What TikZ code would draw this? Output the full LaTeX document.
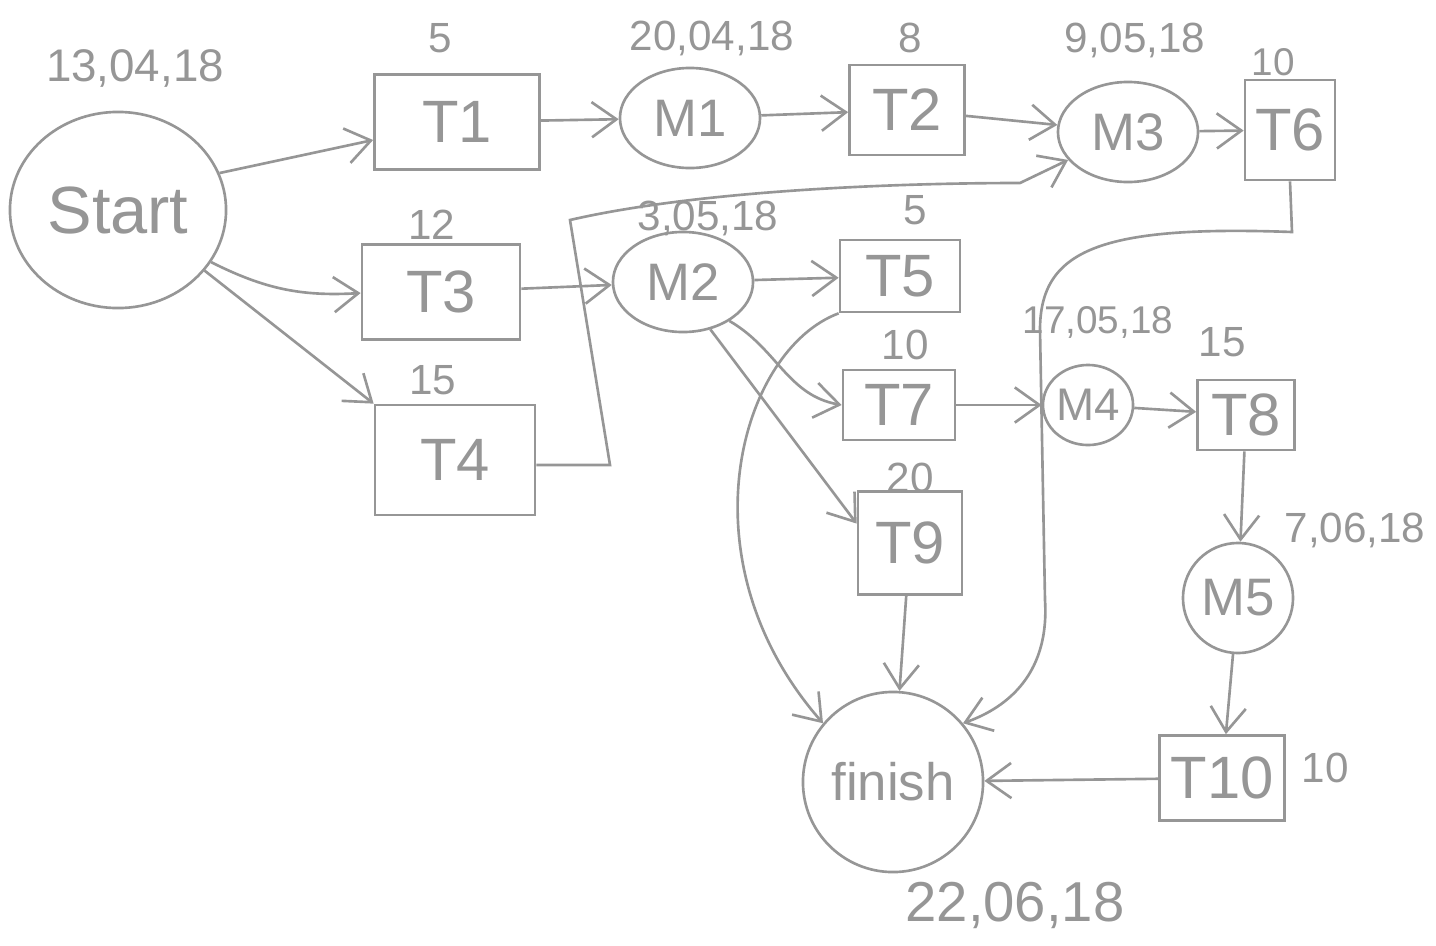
\documentclass[tikz,border=0pt]{standalone}
\usepackage{fontspec}
\setmainfont{Liberation Sans}
\usetikzlibrary{shapes.geometric,arrows.meta}
\definecolor{pencil}{RGB}{150,150,150}
\begin{document}
\begin{tikzpicture}[x=0.01cm,y=-0.01cm,
  box/.style={draw=pencil, line width=0.75pt, rectangle, inner sep=0pt, text=pencil, font=\fontsize{17}{19}\selectfont},
  oval/.style={draw=pencil, line width=0.75pt, ellipse, inner sep=0pt, text=pencil, font=\fontsize{15}{17}\selectfont},
  lbl/.style={text=pencil, inner sep=0pt, font=\fontsize{12}{14}\selectfont},
  link/.style={draw=pencil, line width=0.75pt, -{Straight Barb[length=7pt,width=10pt]}}]
\useasboundingbox (0,0) rectangle (1436,945);
% nodes
\node[oval, minimum width=2.16cm, minimum height=1.96cm, font=\fontsize{19}{21}\selectfont] (start) at (118,210) {Start};
\node[box, minimum width=1.65cm, minimum height=0.95cm] (T1) at (457,122) {T1};
\node[oval, minimum width=1.4cm, minimum height=1.0cm] (M1) at (690,118) {M1};
\node[box, minimum width=1.15cm, minimum height=0.9cm] (T2) at (907,110) {T2};
\node[oval, minimum width=1.4cm, minimum height=1.0cm] (M3) at (1128,132) {M3};
\node[box, minimum width=0.9cm, minimum height=1.0cm] (T6) at (1290,130) {T6};
\node[box, minimum width=1.58cm, minimum height=0.95cm] (T3) at (441,292) {T3};
\node[oval, minimum width=1.4cm, minimum height=1.0cm] (M2) at (683,282) {M2};
\node[box, minimum width=1.2cm, minimum height=0.72cm] (T5) at (900,276) {T5};
\node[box, minimum width=1.6cm, minimum height=1.1cm] (T4) at (455,460) {T4};
\node[box, minimum width=1.12cm, minimum height=0.7cm] (T7) at (899,405) {T7};
\node[oval, minimum width=0.9cm, minimum height=0.8cm, font=\fontsize{13}{15}\selectfont] (M4) at (1088,405) {M4};
\node[box, minimum width=0.97cm, minimum height=0.7cm] (T8) at (1246,415) {T8};
\node[box, minimum width=1.04cm, minimum height=1.03cm] (T9) at (910,543) {T9};
\node[oval, minimum width=1.1cm, minimum height=1.1cm] (M5) at (1238,598) {M5};
\node[box, minimum width=1.25cm, minimum height=0.85cm] (T10) at (1222,778) {T10};
\node[oval, minimum width=1.8cm, minimum height=1.8cm] (finish) at (893,782) {finish};
% labels
\node[lbl, font=\fontsize{13}{15}\selectfont] (l0) at (135,68) {13,04,18};
\node[lbl] (l1) at (440,38) {5};
\node[lbl] (l2) at (712,38) {20,04,18};
\node[lbl] (l3) at (910,38) {8};
\node[lbl] (l4) at (1135,40) {9,05,18};
\node[lbl, font=\fontsize{11}{13}\selectfont] (l5) at (1273,62) {10};
\node[lbl] (l6) at (432,225) {12};
\node[lbl] (l7) at (708,218) {3,05,18};
\node[lbl] (l8) at (915,210) {5};
\node[lbl] (l9) at (433,380) {15};
\node[lbl] (l10) at (905,345) {10};
\node[lbl, font=\fontsize{11}{13}\selectfont] (l11) at (1098,322) {17,05,18};
\node[lbl] (l12) at (1222,342) {15};
\node[lbl] (l13) at (910,478) {20};
\node[lbl] (l14) at (1355,530) {7,06,18};
\node[lbl] (l15) at (1325,768) {10};
\node[lbl, font=\fontsize{16}{18}\selectfont] (l16) at (1015,905) {22,06,18};
% connectors
\coordinate (c1) at (610,465);
\coordinate (c2) at (570,220);
\coordinate (c3) at (1020,183);
\coordinate (d1) at (1292,232);
\coordinate (d2) at (1040,330);
\coordinate (d3) at (1045,600);
\draw[link] (start.20) -- (T1);
\draw[link] (start) to[bend right=15] (T3);
\draw[link] (start.-35) -- (T4.north west);
\draw[link] (T1) -- (M1);
\draw[link] (M1) -- (T2);
\draw[link] (T2) -- (M3);
\draw[link] (M3) -- (T6);
\draw[link] (T3) -- (M2);
\draw[link] (T4.east |- c1) -- (c1) -- (c2) .. controls (700,190) and (900,183) .. (c3) -- (M3.205);
\draw[link] (M2) -- (T5);
\draw[link] (M2.-40) to[out=-30,in=170] (T7.west);
\draw[link] (M2.-60) -- (T9.160);
\draw[link] (T5.south west) .. controls (740,350) and (680,560) .. (finish.140);
\draw[link] (T6.south) -- (d1) .. controls (1100,225) and (1040,250) .. (d2) -- (d3) .. controls (1050,680) and (1000,710) .. (finish.40);
\draw[link] (T7) -- (M4);
\draw[link] (M4) -- (T8);
\draw[link] (T9) -- (finish);
\draw[link] (T8) -- (M5);
\draw[link] (M5) -- (T10);
\draw[link] (T10) -- (finish);
\end{tikzpicture}
\end{document}
